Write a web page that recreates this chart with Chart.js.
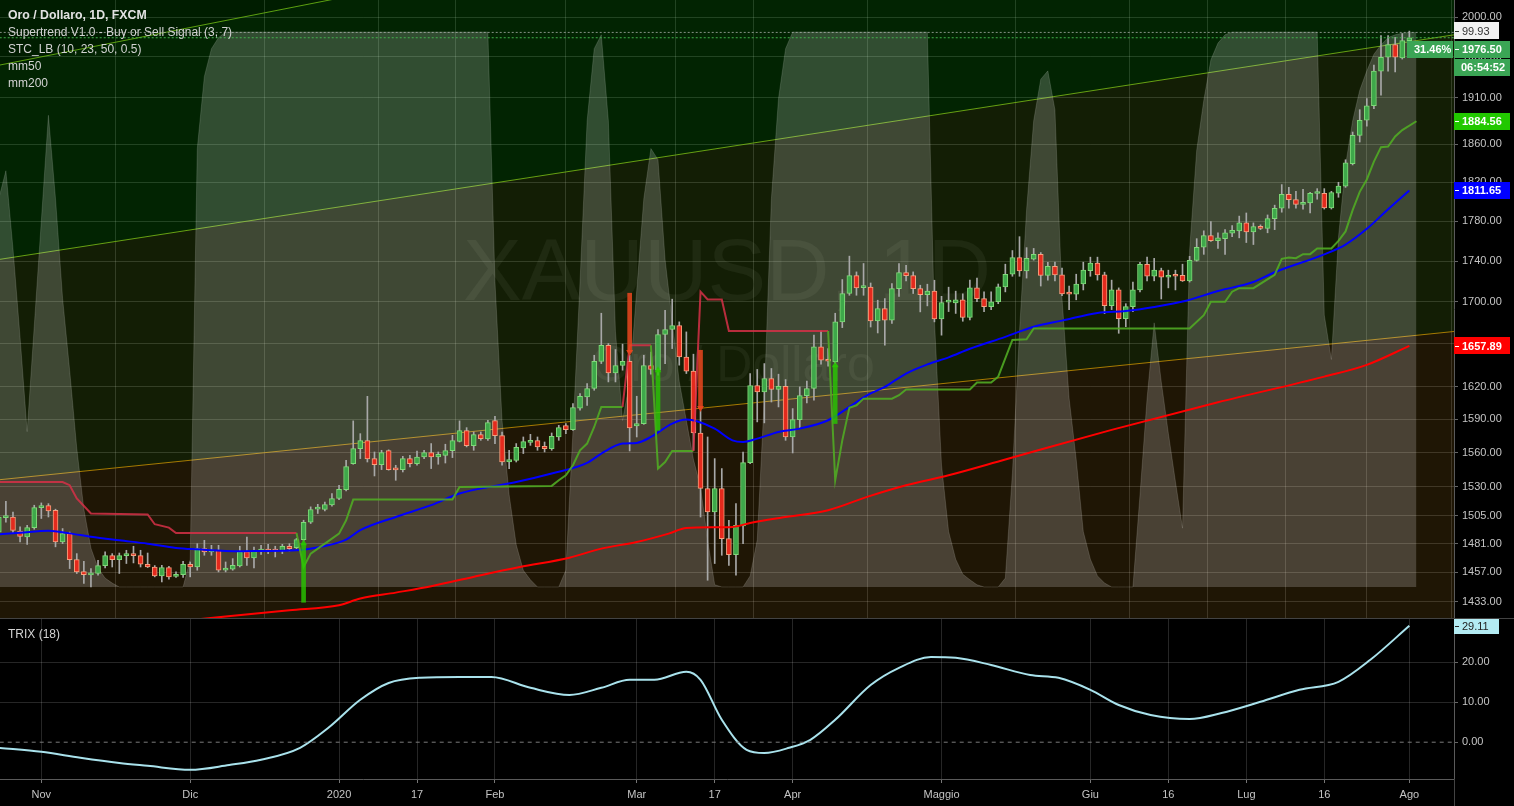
<!DOCTYPE html>
<html>
<head>
<meta charset="utf-8">
<script src="https://cdn.jsdelivr.net/npm/chart.js@4.4.1/dist/chart.umd.min.js"></script>
<style>
  body { margin: 0; background: #000; width: 1514px; height: 806px; overflow: hidden; position: relative;
         font-family: "Liberation Sans", Arial, sans-serif; }
  canvas { position: absolute; left: 0; }
  #top { top: 0; }
  #bottom { top: 619px; }
  .sep { position: absolute; background: #434343; }
  .legend { position: absolute; left: 8px; color: #d2d2d2; font-size: 12px; line-height: 17px; white-space: nowrap; }
  .legend b { font-size: 12.3px; color: #e2e2e2; }
</style>
</head>
<body>
<canvas id="top" width="1514" height="618"></canvas>
<div class="sep" style="left:0;top:618px;width:1514px;height:1px"></div>
<canvas id="bottom" width="1514" height="187"></canvas>
<div class="sep" style="left:1454px;top:779px;width:1px;height:27px"></div>

<div class="legend" style="top:7px">
  <div><b>Oro / Dollaro, 1D, FXCM</b></div>
  <div>Supertrend V1.0 - Buy or Sell Signal (3, 7)</div>
  <div>STC_LB (10, 23, 50, 0.5)</div>
  <div>mm50</div>
  <div>mm200</div>
</div>
<div class="legend" style="top:626px">TRIX (18)</div>

<script>
// x axis: one slot per daily bar (Oct 24 2019 = 0 ... Aug 3 2020 = 199)
const tickIdx  = [6, 27, 48, 59, 70, 90, 101, 112, 133, 154, 165, 176, 187, 199];
const tickText = ['Nov', 'Dic', '2020', '17', 'Feb', 'Mar', '17', 'Apr', 'Maggio', 'Giu', '16', 'Lug', '16', 'Ago'];
const priceTicks = [2000, 1955, 1910, 1860, 1820, 1780, 1740, 1700, 1660, 1620, 1590, 1560, 1530, 1505, 1481, 1457, 1433];
const trixTicks = [0, 10, 20];

// OHLC
const opens = [1490.9,1503.2,1503.8,1491.8,1486.7,1494.7,1511.9,1513.6,1509.6,1482.5,
  1489.6,1467.7,1457.7,1454.9,1456.1,1462.7,1471.0,1467.7,1471.0,1472.4,
  1471.0,1463.8,1461.5,1454.1,1461.0,1453.6,1455.2,1463.8,1461.5,1476.9,
  1474.1,1475.5,1458.8,1459.6,1462.3,1474.4,1469.0,1474.9,1475.2,1475.2,
  1474.9,1478.9,1477.8,1484.5,1499.3,1510.5,1510.2,1514.1,1519.7,1527.5,
  1550.3,1563.6,1570.7,1554.7,1549.4,1561.8,1545.3,1545.0,1554.7,1550.3,
  1556.1,1560.1,1556.1,1557.6,1561.8,1570.1,1579.7,1566.3,1576.1,1572.2,
  1588.8,1575.2,1551.7,1553.2,1564.1,1569.2,1570.7,1565.7,1563.6,1574.0,
  1584.2,1580.6,1600.0,1610.4,1618.1,1643.2,1658.4,1632.6,1639.5,1643.5,
  1583.9,1586.1,1639.5,1635.1,1668.7,1673.5,1677.3,1647.5,1634.2,1577.6,
  1528.4,1508.1,1528.4,1485.3,1471.9,1496.1,1551.1,1620.9,1614.9,1627.4,
  1617.2,1620.2,1574.0,1589.7,1611.6,1618.1,1657.1,1644.4,1642.8,1680.8,
  1708.2,1725.8,1713.9,1714.6,1681.7,1693.6,1682.4,1713.0,1728.8,1725.8,
  1713.0,1707.2,1710.7,1683.7,1699.8,1699.1,1702.1,1685.0,1713.7,1703.2,
  1695.5,1700.2,1714.7,1727.1,1743.6,1730.3,1742.0,1746.8,1726.0,1735.0,
  1726.4,1709.5,1707.5,1717.5,1730.7,1738.1,1726.4,1696.4,1711.7,1683.9,
  1695.5,1711.7,1737.0,1725.2,1730.7,1724.1,1725.6,1726.0,1720.6,1740.8,
  1753.9,1765.7,1760.6,1762.5,1768.0,1770.4,1778.4,1769.2,1774.8,1772.8,
  1782.8,1793.3,1807.5,1802.2,1797.3,1798.9,1808.5,1808.7,1793.7,1808.7,
  1816.1,1839.4,1869.5,1885.6,1901.3,1939.3,1954.6,1968.9,1953.8,1973.2];
const highs = [1507.9,1517.3,1507.9,1495.3,1496.7,1513.9,1515.9,1515.3,1510.5,1493.9,
  1490.9,1472.7,1466.3,1460.2,1467.1,1474.1,1472.7,1473.2,1475.5,1478.9,
  1475.5,1473.2,1462.7,1462.9,1462.1,1457.4,1466.3,1465.7,1481.1,1483.9,
  1479.7,1479.7,1465.7,1468.5,1478.9,1486.7,1478.3,1479.7,1480.5,1478.9,
  1480.5,1481.1,1485.6,1501.0,1512.5,1514.7,1516.7,1524.0,1531.2,1553.2,
  1588.5,1577.0,1610.9,1560.6,1562.1,1562.5,1548.8,1556.7,1557.6,1561.5,
  1562.1,1568.1,1560.6,1567.5,1575.5,1588.5,1582.4,1578.5,1578.5,1589.1,
  1592.7,1578.5,1562.1,1568.1,1574.0,1576.4,1574.0,1569.5,1577.6,1584.5,
  1586.1,1604.3,1613.5,1622.7,1649.1,1689.1,1660.2,1654.5,1659.6,1649.1,
  1611.0,1649.1,1652.2,1673.5,1692.0,1702.7,1680.8,1671.2,1650.1,1597.6,
  1574.0,1554.7,1545.9,1501.0,1515.3,1560.6,1632.0,1635.8,1641.3,1636.7,
  1631.4,1626.4,1599.7,1619.6,1625.1,1668.1,1672.1,1655.4,1689.1,1721.9,
  1745.0,1729.4,1737.7,1718.5,1701.7,1703.3,1718.0,1737.7,1736.0,1729.4,
  1716.3,1717.3,1721.2,1705.5,1714.4,1710.5,1707.9,1721.3,1723.3,1709.8,
  1709.8,1717.5,1737.0,1750.6,1764.5,1753.5,1752.7,1748.6,1738.9,1739.0,
  1733.1,1715.5,1727.1,1739.0,1744.0,1744.0,1729.1,1721.3,1713.7,1698.3,
  1719.4,1738.9,1744.0,1742.8,1733.1,1731.1,1731.1,1737.0,1744.8,1762.5,
  1770.4,1779.7,1768.4,1771.6,1775.6,1785.3,1788.5,1778.4,1776.4,1786.5,
  1796.5,1817.7,1814.8,1810.7,1812.7,1809.8,1813.5,1813.5,1810.7,1820.1,
  1843.6,1873.0,1897.0,1909.1,1945.9,1979.0,1979.0,1976.9,1981.2,1984.0];
const lows = [1488.2,1499.3,1489.8,1482.5,1480.5,1493.3,1502.5,1503.8,1478.4,1481.1,
  1460.2,1456.1,1447.8,1445.0,1454.7,1460.7,1461.5,1456.1,1464.4,1464.9,
  1461.5,1461.0,1453.3,1449.1,1451.3,1452.8,1452.8,1453.3,1458.8,1471.3,
  1471.3,1457.4,1457.4,1458.8,1461.5,1462.9,1460.7,1472.1,1472.7,1469.9,
  1472.7,1474.9,1476.9,1483.3,1498.2,1506.8,1509.0,1513.0,1518.8,1526.3,
  1549.7,1554.7,1551.7,1539.4,1545.0,1544.5,1535.6,1542.9,1547.4,1548.8,
  1554.7,1545.9,1549.7,1550.8,1555.6,1569.5,1565.1,1562.1,1571.0,1571.0,
  1568.1,1548.8,1545.9,1551.7,1559.2,1566.5,1562.1,1560.6,1562.1,1571.0,
  1577.0,1580.0,1598.2,1602.7,1616.5,1641.3,1624.2,1624.2,1635.1,1561.5,
  1574.0,1585.4,1631.4,1630.5,1641.3,1655.4,1639.8,1632.0,1562.1,1503.8,
  1450.5,1464.4,1471.3,1462.9,1454.7,1481.1,1550.3,1587.6,1586.7,1605.7,
  1601.2,1571.0,1559.7,1581.5,1604.8,1607.3,1640.7,1638.8,1641.3,1675.3,
  1706.5,1706.5,1706.5,1675.9,1670.2,1658.6,1679.2,1705.5,1720.5,1708.2,
  1690.4,1696.2,1680.8,1668.1,1690.7,1688.9,1681.4,1682.7,1700.2,1690.7,
  1692.6,1698.3,1709.8,1725.1,1725.1,1723.3,1741.0,1715.5,1721.3,1720.6,
  1706.0,1692.6,1702.1,1711.7,1725.1,1721.3,1688.7,1692.6,1669.9,1676.2,
  1690.7,1709.8,1720.6,1720.6,1702.9,1713.7,1711.7,1720.0,1719.4,1740.0,
  1746.8,1759.8,1752.7,1746.8,1764.5,1763.3,1758.6,1756.6,1771.6,1768.4,
  1771.6,1789.3,1793.3,1793.3,1792.5,1788.5,1802.6,1792.5,1792.5,1804.6,
  1814.8,1838.2,1862.4,1879.3,1898.2,1912.9,1939.3,1938.2,1952.6,1968.0];
const closes = [1503.8,1504.1,1492.4,1487.3,1494.7,1511.9,1513.6,1509.0,1482.5,1489.6,
  1467.7,1457.4,1455.2,1456.6,1462.7,1471.0,1467.7,1471.0,1472.4,1471.0,
  1463.8,1461.5,1454.1,1461.0,1453.3,1455.5,1463.8,1461.5,1476.9,1474.1,
  1475.5,1458.8,1460.5,1462.9,1474.4,1469.0,1475.2,1475.2,1474.9,1474.9,
  1478.9,1476.9,1484.5,1499.3,1510.2,1510.9,1514.5,1519.7,1527.8,1547.7,
  1563.6,1570.7,1554.4,1549.4,1560.1,1545.0,1544.8,1554.7,1550.3,1556.1,
  1560.1,1556.1,1558.5,1561.8,1570.7,1579.7,1566.3,1576.1,1572.5,1587.0,
  1575.2,1551.7,1553.8,1564.8,1569.8,1571.0,1565.1,1563.6,1574.6,1582.4,
  1580.6,1600.7,1611.0,1618.1,1643.5,1658.4,1632.6,1639.5,1643.5,1582.1,
  1586.1,1639.5,1635.8,1668.7,1673.5,1677.3,1647.5,1634.2,1577.6,1528.4,
  1508.1,1528.4,1485.3,1471.9,1496.7,1551.1,1620.9,1614.9,1627.4,1617.2,
  1620.2,1574.0,1589.7,1611.6,1618.1,1657.1,1644.4,1643.5,1680.8,1708.2,
  1725.8,1713.7,1715.3,1681.7,1693.6,1682.4,1713.0,1728.8,1725.8,1713.0,
  1707.2,1710.7,1683.7,1699.5,1700.2,1702.1,1685.0,1713.7,1703.2,1695.5,
  1700.2,1714.7,1727.1,1743.6,1730.3,1742.8,1746.8,1726.0,1735.0,1726.4,
  1707.9,1707.5,1717.5,1731.1,1738.1,1726.4,1696.4,1711.7,1683.9,1695.5,
  1711.7,1737.0,1725.2,1731.1,1724.1,1726.0,1725.1,1720.6,1740.8,1753.9,
  1765.7,1760.6,1763.3,1768.4,1770.8,1778.4,1769.2,1774.8,1772.8,1782.8,
  1793.3,1807.5,1802.2,1797.3,1798.9,1808.7,1808.8,1793.7,1809.5,1816.1,
  1840.3,1869.5,1885.6,1901.3,1939.3,1954.6,1968.9,1954.6,1973.2,1976.5];

// STC oscillator (0..100), one value per bar
const stc = [70,75,61,45,28,47,66,85,70,52,
  39,25,14,7,3.4,1.6,0.7,0,0,0,
  0,0,0,0,0,0,0,5,79,92,
  97,99,100,100,100,100,100,100,100,100,
  100,100,100,100,100,100,100,100,100,100,
  100,100,100,100,100,100,100,100,100,100,
  100,100,100,100,100,100,100,100,100,100,
  55,30,16.6,7.6,3,1.3,0,0,0,0,
  3,28,55,84,97,99.5,84,46,30,37,
  53.5,70,79,77,59,48,37,30,23,18,
  8.5,0.4,0,0,0,0,2,8.5,34,70,
  88,97,100,100,100,100,100,100,100,100,
  100,100,100,100,100,100,100,100,100,100,
  100,100,48,22,10,5,2.3,1.3,0.4,0,
  0,0,1.6,20.5,46,68,84,91.5,93,86,
  52,34,23,10,5,2,0.7,0,0,0,
  0,16.6,34,47.6,37,27.7,19,10.6,60.7,78.7,
  87.7,95,98,99.5,100,100,100,100,100,100,
  100,100,100,100,100,100,100,49,41,63,
  76,84,89.5,93,96,97.7,99,99.5,99.8,99.93,
  99.93];

// moving averages [bar, value]
const mm50 = [[0,1489.0],[3,1490.3],[7,1492.0],[10,1489.8],[13,1486.9],[17,1483.9],[21,1481.1],[25,1477.5],
  [28,1476.3],[34,1474.7],[37,1474.9],[42,1475.5],[46,1479.1],[49,1484.5],[51,1492.5],[56,1503.8],[61,1514.0],
  [65,1524.0],[70,1530.7],[73,1534.1],[78,1541.5],[83,1550.9],[85,1559.2],[88,1568.1],[90,1568.7],[92,1574.0],
  [95,1586.1],[97,1589.7],[98.5,1588.2],[101,1581.5],[103.5,1571.0],[105,1569.5],[107,1572.5],[110,1578.5],
  [113,1581.5],[117,1589.1],[120,1601.2],[122.5,1611.9],[125,1619.6],[128,1632.0],[131,1640.5],[134,1647.1],
  [137,1655.2],[142,1666.5],[146,1676.2],[150,1682.0],[155,1689.4],[159,1691.3],[163,1695.2],[167.5,1701.2],
  [172,1710.7],[177,1719.4],[180,1729.1],[187,1746.8],[190,1756.6],[193,1772.4],[196,1792.4],[199,1811.65]];
const mm200 = [[28,1418.5],[41,1425.9],[48,1430.0],[51,1435.4],[56,1440.3],[61,1445.5],[68,1454.7],[73.5,1461.5],
  [80.5,1469.3],[85,1476.9],[90,1482.5],[94.5,1489.6],[97,1494.4],[103.5,1495.3],[106,1498.7],[110.5,1503.4],
  [117,1509.6],[122.5,1521.1],[128,1531.2],[134,1540.0],[142,1553.9],[157,1580.4],[172,1605.5],[187,1629.1],
  [193,1640.1],[199,1657.89]];

// supertrend [bar, value, trend]  (1 = up / green, -1 = down / red)
const supertrend = [[0,1534.1,-1],[9,1534.1,-1],[10,1531.3,-1],[11,1519.7,-1],[13,1506.8,-1],[21,1505.9,-1],
  [22,1497.6,-1],[24,1494.7,-1],[25,1490.1,-1],[42,1490.1,-1],
  [43,1461.5,1],[44,1472.7,1],[46,1481.1,1],[48,1489.6,1],[49,1501.0,1],[50,1518.8,1],[64,1518.8,1],[65,1529.8,1],
  [78,1530.7,1],[79,1535.6,1],[80,1540.0,1],[81,1548.8,1],[82,1562.1,1],[83,1568.1,1],[84,1583.0,1],[85,1601.2,1],
  [88,1601.2,1],
  [89,1658.6,-1],[92,1658.6,-1],
  [93,1545.9,1],[94,1551.7,1],[95,1561.5,1],[98,1561.5,1],
  [99,1710.0,-1],[100,1702.4,-1],[102,1702.4,-1],[103,1672.1,-1],[117,1672.1,-1],
  [118,1535.6,1],[119,1571.0,1],[120,1600.5,1],[121,1602.7,1],[122,1608.8,1],[126,1608.8,1],[127,1611.9,1],
  [128,1617.2,1],[137,1617.2,1],[138,1623.7,1],[140,1623.7,1],[141,1629.1,1],[143,1663.5,1],[145,1664.2,1],
  [146,1674.4,1],[168,1674.4,1],[170,1687.2,1],[171,1700.1,1],[173,1700.1,1],[174,1710.0,1],[175,1713.4,1],
  [177,1713.4,1],[180,1726.5,1],[181,1742.3,1],[182,1743.6,1],[183,1743.0,1],[184,1747.0,1],[185,1747.0,1],
  [186,1752.6,1],[188,1752.6,1],[189,1760.3,1],[190,1769.8,1],[191,1791.4,1],[192,1810.2,1],[193,1823.0,1],
  [194,1841.6,1],[195,1856.9,1],[196,1857.5,1],[197,1868.2,1],[198,1875.1,1],[200,1884.56,1]];
// signal arrows [bar, tail, head]
const buySignals  = [[43,1432.4,1481.4],[93,1580.0,1635.1],[118,1586.1,1639.8]];
const sellSignals = [[89,1708.5,1652.2],[99,1653.8,1600.2]];

// TRIX [bar, value]
const trix = [[0,-1.4],[6,-2.4],[11.5,-3.9],[17,-5.2],[21,-5.9],[27,-6.9],[32.5,-5.7],[37,-4.4],[42.5,-1.4],
  [46.5,3.6],[51,10.6],[55,14.8],[59.5,16.1],[65,16.3],[69.5,16.3],[75,13.6],[80.5,11.8],[85,13.6],[89,15.6],
  [92.5,15.6],[97,17.6],[99,15.6],[102,5.6],[105.5,-1.9],[108,-2.7],[111.5,-1.4],[114.5,0.6],[118,5.6],
  [123,14.3],[127,18.6],[131.5,21.3],[135,21.1],[140,19.3],[145.5,16.8],[149.5,16.1],[154,13.1],[158,9.3],
  [162.5,6.8],[168,5.8],[172.5,7.3],[178,10.1],[183.5,13.1],[189,15.1],[193.5,20.6],[199,29.11]];

// channel drawings [bar, price]
const channelTop   = [[-1,1944.2],[207,2294.8]];
const channelMid   = [[-1,1740.6],[207,1981.9]];
const channelLow   = [[-1,1535.4],[207,1672.8]];

const xMin = 0.169, xMax = 205.3;
const gridColor = 'rgba(255,255,255,0.15)';
const axisText = '#c4c4c4';
const font11 = { family: '"Liberation Sans", Arial, sans-serif', size: 11 };
const pts = a => a.map(p => ({ x: p[0], y: p[1] }));
const noPad = a => { a.paddingTop = 0; a.paddingBottom = 0; a.paddingLeft = 0; a.paddingRight = 0; };

Chart.defaults.font.family = '"Liberation Sans", Arial, sans-serif';

function tag(ctx, x, yc, w, text, bg, fg, bold, dash) {
  const h = 17;
  ctx.fillStyle = bg;
  ctx.fillRect(x, Math.round(yc - h / 2), w, h);
  ctx.fillStyle = fg;
  if (dash) ctx.fillRect(x + 1, Math.round(yc), 4, 1);
  ctx.font = (bold ? 'bold ' : '') + '11px "Liberation Sans", Arial, sans-serif';
  ctx.textBaseline = 'middle';
  ctx.textAlign = 'left';
  ctx.fillText(text, x + (dash ? 8 : 7), yc + 1);
}

const up = closes.map((c, i) => c >= opens[i]);

const mainDecor = {
  id: 'mainDecor',
  beforeDatasetsDraw(chart) {
    const ctx = chart.ctx;
    ctx.save();
    ctx.fillStyle = 'rgba(255,255,255,0.055)';
    ctx.textAlign = 'center';
    ctx.textBaseline = 'alphabetic';
    ctx.font = '88px "Liberation Sans", Arial, sans-serif';
    ctx.fillText('XAUUSD, 1D', 727, 300);
    ctx.font = '50px "Liberation Sans", Arial, sans-serif';
    ctx.fillText('Oro / Dollaro', 733, 381);
    ctx.restore();
  },
  afterDraw(chart) {
    const ctx = chart.ctx, y = chart.scales.y, s = chart.scales.stc, r = chart.chartArea.right;
    ctx.save();
    const yStc = s.getPixelForValue(stc[stc.length - 1]) - 1.5;
    tag(ctx, r, yStc, 45, '99.93', '#f2f2f2', '#333', false, true);
    const yLast = yStc + 18.5;
    tag(ctx, r - 47, yLast, 46, '31.46%', '#3ba555', '#fff', true, false);
    tag(ctx, r, yLast, 56, closes[closes.length - 1].toFixed(2), '#3ba555', '#fff', true, true);
    tag(ctx, r, yLast + 18, 56, '06:54:52', '#3ba555', '#fff', true, false);
    tag(ctx, r, y.getPixelForValue(supertrend[supertrend.length - 1][1]), 56, '1884.56', '#22c800', '#fff', true, true);
    tag(ctx, r, y.getPixelForValue(mm50[mm50.length - 1][1]), 56, '1811.65', '#0000ff', '#fff', true, true);
    tag(ctx, r, y.getPixelForValue(mm200[mm200.length - 1][1]), 56, '1657.89', '#ff0000', '#fff', true, true);
    ctx.restore();
  }
};

new Chart(document.getElementById('top'), {
  type: 'bar',
  data: {
    datasets: [
      { type: 'line', data: pts(channelTop), order: 100, borderColor: 'rgba(110,170,20,0.9)', borderWidth: 1,
        pointRadius: 0, fill: 'end', backgroundColor: 'rgba(0,255,0,0.115)' },
      { type: 'line', data: pts(channelMid), order: 99, borderColor: 'rgba(110,170,20,0.9)', borderWidth: 1,
        pointRadius: 0, fill: 0, backgroundColor: 'rgba(15,255,15,0.14)' },
      { type: 'line', data: pts(channelLow), order: 98, borderColor: 'rgba(170,125,0,0.95)', borderWidth: 1,
        pointRadius: 0, fill: 1, backgroundColor: 'rgba(160,245,40,0.12)' },
      { type: 'line', data: pts(channelLow), order: 97, borderWidth: 0, pointRadius: 0,
        fill: 'start', backgroundColor: 'rgba(255,180,40,0.122)' },
      { type: 'line', yAxisID: 'stc', data: stc.map((v, i) => ({ x: i, y: v })), order: 90,
        borderColor: 'rgba(255,255,255,0.14)', borderWidth: 1, pointRadius: 0,
        fill: { value: 0 }, backgroundColor: 'rgba(255,255,255,0.19)' },
      { type: 'line', yAxisID: 'stc', data: [{ x: -1, y: 99.93 }, { x: 207, y: 99.93 }], order: 89,
        borderColor: 'rgba(190,190,190,0.7)', borderWidth: 1, borderDash: [2, 2], pointRadius: 0 },
      { type: 'bar', data: opens.map((o, i) => ({ x: i, y: [lows[i], highs[i]] })), order: 80,
        grouped: false, barThickness: 1, backgroundColor: '#a8a8a8' },
      { type: 'bar', data: opens.map((o, i) => ({ x: i, y: [o, closes[i]] })), order: 79,
        grouped: false, barThickness: 5, minBarLength: 2, borderWidth: 1, borderSkipped: false,
        backgroundColor: up.map(u => u ? '#3ea84a' : '#e42a1d'),
        borderColor: up.map(u => u ? '#80d978' : '#f6a07e') },
      { type: 'line', data: pts(mm200), order: 70, borderColor: '#ff0000', borderWidth: 2, pointRadius: 0,
        cubicInterpolationMode: 'monotone' },
      { type: 'line', data: pts(mm50), order: 69, borderColor: '#0000ff', borderWidth: 2, pointRadius: 0,
        cubicInterpolationMode: 'monotone' },
      { type: 'line', data: supertrend.map(p => ({ x: p[0], y: p[1] })), order: 60, borderWidth: 2, pointRadius: 0,
        borderColor: 'rgba(80,170,35,0.9)',
        segment: { borderColor: c => supertrend[c.p1DataIndex][2] > 0 ? 'rgba(80,170,35,0.9)' : 'rgba(214,48,72,0.85)' } },
      { type: 'bar', data: buySignals.map(s => ({ x: s[0], y: [s[1], s[2]] })), order: 50,
        grouped: false, barThickness: 4, backgroundColor: 'rgba(40,200,0,0.8)' },
      { type: 'bar', data: sellSignals.map(s => ({ x: s[0], y: [s[1], s[2]] })), order: 50,
        grouped: false, barThickness: 4, backgroundColor: 'rgba(235,70,30,0.85)' },
      { type: 'scatter', data: buySignals.map(s => ({ x: s[0], y: s[2] })), order: 49,
        pointStyle: 'triangle', pointRadius: 4, backgroundColor: 'rgba(40,200,0,0.85)', borderWidth: 0 },
      { type: 'scatter', data: sellSignals.map(s => ({ x: s[0], y: s[2] })), order: 49,
        pointStyle: 'triangle', rotation: 180, pointRadius: 4, backgroundColor: 'rgba(235,70,30,0.9)', borderWidth: 0 },
      { type: 'line', data: [{ x: -1, y: closes[closes.length - 1] }, { x: 207, y: closes[closes.length - 1] }],
        order: 40, borderColor: 'rgba(70,185,80,0.95)', borderWidth: 1, borderDash: [2, 2], pointRadius: 0 }
    ]
  },
  options: {
    responsive: false,
    devicePixelRatio: 1,
    animation: false,
    layout: { padding: 0, autoPadding: false },
    plugins: { legend: { display: false }, tooltip: { enabled: false } },
    scales: {
      x: {
        type: 'linear', min: xMin, max: xMax, offset: false,
        afterBuildTicks: a => { a.ticks = tickIdx.map(v => ({ value: v })); },
        afterFit: a => { a.height = 0; noPad(a); },
        ticks: { display: false },
        grid: { color: gridColor, drawTicks: false },
        border: { display: false }
      },
      y: {
        type: 'logarithmic', position: 'right', min: 1419.6, max: 2019.5,
        afterBuildTicks: a => { a.ticks = priceTicks.map(v => ({ value: v })); },
        afterFit: a => { a.width = 60; noPad(a); },
        ticks: { color: axisText, font: font11, padding: 4, autoSkip: false, callback: v => Number(v).toFixed(2) },
        grid: { color: gridColor, tickColor: '#666', tickLength: 4 },
        border: { display: true, color: '#5a5a5a' }
      },
      stc: { type: 'linear', display: false, min: -5.59, max: 105.77 }
    }
  },
  plugins: [mainDecor]
});

const lowerDecor = {
  id: 'lowerDecor',
  afterDraw(chart) {
    const ctx = chart.ctx, y = chart.scales.y, r = chart.chartArea.right;
    ctx.save();
    tag(ctx, r, y.getPixelForValue(trix[trix.length - 1][1]), 45, trix[trix.length - 1][1].toFixed(2),
        '#b3ebf3', '#222', false, true);
    ctx.restore();
  }
};

new Chart(document.getElementById('bottom'), {
  type: 'line',
  data: {
    datasets: [
      { data: [{ x: -1, y: 0 }, { x: 207, y: 0 }], borderColor: '#7a7a7a', borderWidth: 1, borderDash: [4, 4], pointRadius: 0 },
      { data: pts(trix), borderColor: '#a9e2ec', borderWidth: 2, pointRadius: 0, cubicInterpolationMode: 'monotone' }
    ]
  },
  options: {
    responsive: false,
    devicePixelRatio: 1,
    animation: false,
    layout: { padding: 0, autoPadding: false },
    plugins: { legend: { display: false }, tooltip: { enabled: false } },
    scales: {
      x: {
        type: 'linear', min: xMin, max: xMax, offset: false,
        afterBuildTicks: a => { a.ticks = tickIdx.map(v => ({ value: v })); },
        afterFit: a => { a.height = 27; noPad(a); },
        ticks: { color: axisText, font: font11, padding: 5, autoSkip: false, maxRotation: 0,
                 callback: (v, i) => tickText[i] },
        grid: { color: gridColor, tickColor: '#777', tickLength: 4 },
        border: { display: true, color: '#5a5a5a' }
      },
      y: {
        type: 'linear', position: 'right', min: -9.2, max: 30.8,
        afterBuildTicks: a => { a.ticks = trixTicks.map(v => ({ value: v })); },
        afterFit: a => { a.width = 60; noPad(a); },
        ticks: { color: axisText, font: font11, padding: 4, callback: v => Number(v).toFixed(2) },
        grid: { color: c => c.tick && c.tick.value === 0 ? 'rgba(0,0,0,0)' : gridColor, tickColor: '#666', tickLength: 4 },
        border: { display: true, color: '#5a5a5a' }
      }
    }
  },
  plugins: [lowerDecor]
});
</script>
</body>
</html>
